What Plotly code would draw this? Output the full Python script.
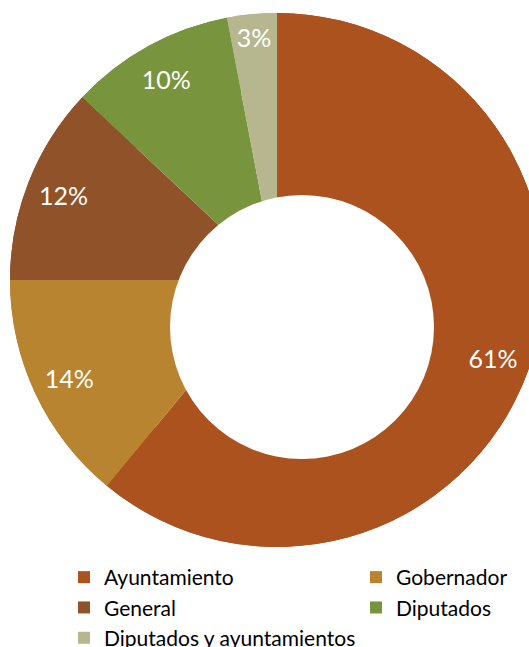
import plotly.graph_objects as go

labels = ["Ayuntamiento", "Gobernador", "General", "Diputados", "Diputados y ayuntamientos"]
values = [61, 14, 12, 10, 3]
colors = ["#AB521E", "#B88430", "#8F5229", "#78943D", "#B6B78E"]

W, H = 680, 690
cx, cy, R = 277, 280, 267          # pie centre / radius (px)
hx, hy, hr = 302, 327, 132         # white centre disc (px)

dom = dict(x=[(cx - R) / W, (cx + R) / W], y=[1 - (cy + R) / H, 1 - (cy - R) / H])

fig = go.Figure()
fig.add_trace(go.Pie(
    labels=labels, values=values, sort=False, direction="clockwise", rotation=0,
    marker=dict(colors=colors, line=dict(width=0)), textinfo="none",
    domain=dom, hoverinfo="label+percent", showlegend=True,
))
fig.add_trace(go.Pie(
    labels=labels, values=values, sort=False, direction="clockwise", rotation=0,
    hole=0.72, marker=dict(colors=colors, line=dict(width=0)),
    textinfo="percent", textposition="inside", insidetextorientation="horizontal",
    textfont=dict(family="Lato", size=25, color="white"),
    domain=dom, hoverinfo="skip", showlegend=False,
))
fig.add_shape(type="circle", xref="paper", yref="paper",
              x0=(hx - hr) / W, x1=(hx + hr) / W,
              y0=1 - (hy + hr) / H, y1=1 - (hy - hr) / H,
              fillcolor="white", line=dict(width=0), layer="above")

fig.update_layout(
    width=W, height=H, margin=dict(l=0, r=0, t=0, b=0),
    paper_bgcolor="white", plot_bgcolor="white",
    legend=dict(orientation="h", x=64 / W, xanchor="left", y=1 - 557 / H, yanchor="top",
                entrywidth=247, entrywidthmode="pixels",
                font=dict(family="Lato", size=21, color="#000000"),
                traceorder="normal"),
)

fig.write_html("out.html", post_script=(
    "document.body.style.margin='0';document.body.style.overflow='hidden';"
    "document.documentElement.style.overflow='hidden';"))
